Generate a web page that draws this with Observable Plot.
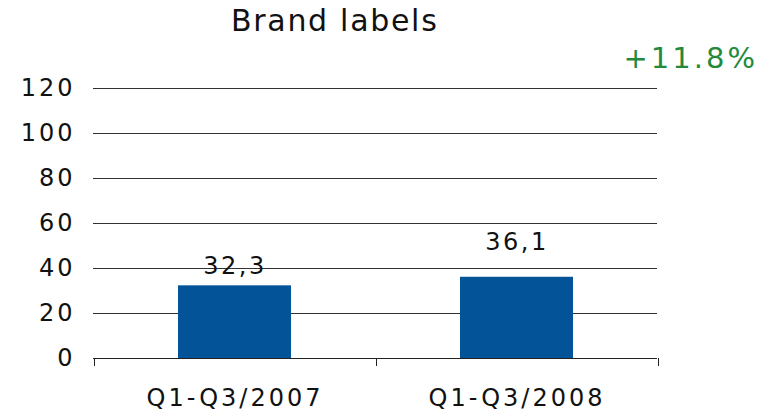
<!DOCTYPE html>
<html>
<head>
<meta charset="utf-8">
<script src="https://cdn.jsdelivr.net/npm/d3@7"></script>
<script src="https://cdn.jsdelivr.net/npm/@observablehq/plot@0.6"></script>
<style>
  html, body { margin: 0; padding: 0; background: #fff; }
  #wrap { position: relative; width: 771px; height: 412px; font-family: "DejaVu Sans", sans-serif; }
  #title { position: absolute; left: 231px; top: 6px; font-size: 30px; line-height: 30px; letter-spacing: 1.7px; color: #111; white-space: nowrap; }
  #change { position: absolute; right: 13px; top: 44px; font-size: 29px; line-height: 29px; letter-spacing: 3px; color: #238a3c; white-space: nowrap; }
  #chart { position: absolute; left: 0; top: 0; }
  #chart svg text { letter-spacing: 3px; }
  #chart svg g.vals text { letter-spacing: 2.5px; }
</style>
</head>
<body>
<div id="wrap">
  <div id="chart"></div>
  <div id="title">Brand labels</div>
  <div id="change">+11.8%</div>
</div>
<script>
const categories = ["Q1-Q3/2007", "Q1-Q3/2008"];
const values = [32.3, 36.1];
const yTicks = [0, 20, 40, 60, 80, 100, 120];

const data = categories.map((c, i) => ({category: c, value: values[i]}));
const fmt = v => v.toFixed(1).replace(".", ",");

const boundaryTicks = (index, scales, vals, dimensions) => {
  const x = scales.x, y = scales.y;
  const step = x.step(), bw = x.bandwidth();
  const g = d3.create("svg:g").attr("stroke", "#222").attr("stroke-width", 1);
  const edges = categories.map(c => x(c) - (step - bw) / 2);
  edges.push(x(categories[categories.length - 1]) + bw + (step - bw) / 2);
  const y0 = y(0);
  for (const e of edges) {
    g.append("line").attr("x1", Math.round(e) + 0.5).attr("x2", Math.round(e) + 0.5)
      .attr("y1", y0).attr("y2", y0 + 8);
  }
  return g.node();
};

const chart = Plot.plot({
  width: 771,
  height: 412,
  marginTop: 88,
  marginBottom: 54,
  marginLeft: 93,
  marginRight: 114,
  style: {fontFamily: "DejaVu Sans, sans-serif", fontSize: "24px", color: "#111", background: "transparent"},
  x: {domain: categories, paddingInner: 0.6, paddingOuter: 0.3, label: null},
  y: {domain: [0, 120], label: null},
  marks: [
    Plot.ruleY(yTicks.filter(t => t > 0), {stroke: "#333", strokeWidth: 1}),
    Plot.barY(data, {x: "category", y: "value", fill: "#035398"}),
    Plot.ruleY([0], {stroke: "#222", strokeWidth: 1.2}),
    boundaryTicks,
    Plot.axisY({ticks: yTicks, tickSize: 0, tickPadding: 18, fontSize: 24, label: null}),
    Plot.axisX({tickSize: 0, tickPadding: 30, fontSize: 24, label: null}),
    Plot.text(data.filter((d, i) => i === 0), {x: "category", y: "value", text: d => fmt(d.value), dy: -20, fontSize: 24, fill: "#111", className: "vals"}),
    Plot.text(data.filter((d, i) => i === 1), {x: "category", y: "value", text: d => fmt(d.value), dy: -35, fontSize: 24, fill: "#111", className: "vals"})
  ]
});
document.getElementById("chart").appendChild(chart);
</script>
</body>
</html>
